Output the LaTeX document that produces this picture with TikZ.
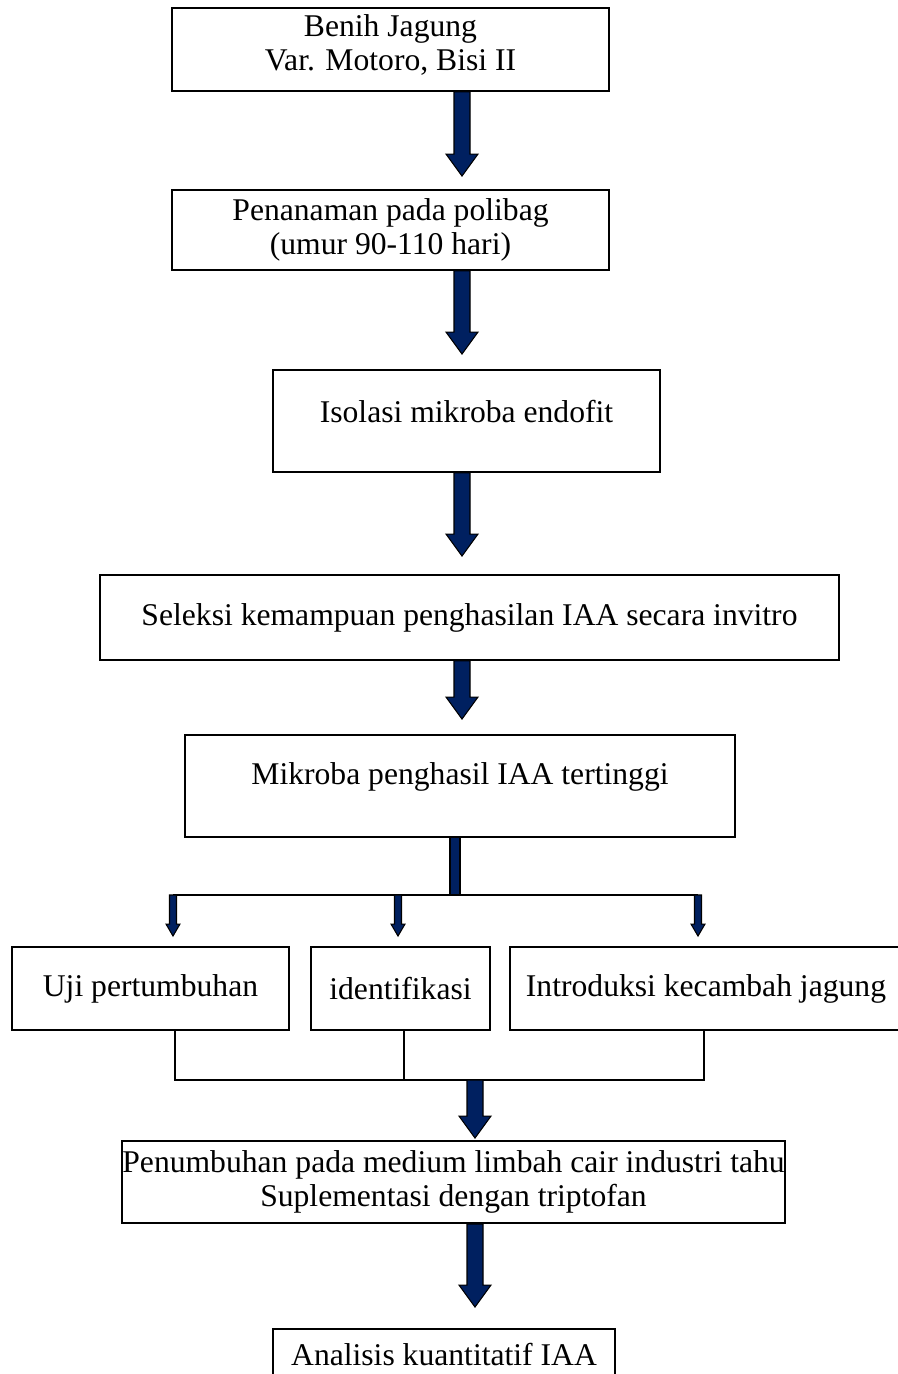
\documentclass[tikz,border=0pt]{standalone}
\usepackage{fontspec}
\setmainfont{Liberation Serif}
\usetikzlibrary{calc}
\definecolor{arrownavy}{RGB}{0,32,96}
\tikzset{
	box/.style={draw=black,line width=1.1pt,inner sep=0pt,align=center,font=\fontsize{18}{19.5}\selectfont},
	bigarrow/.style={fill=arrownavy,draw=black,line width=0.6pt},
	joinline/.style={line width=0.9pt}
}
% block arrow: #1 from, #2 tip, #3 half shaft, #4 half head, #5 head length
\newcommand\blockarrow[5]{%
	\filldraw[bigarrow] let \p1=(#1), \p2=(#2) in
		(\x1-#3,\y1) to (\x1-#3,\y2+#5) to (\x1-#4,\y2+#5) to (\x1,\y2) to (\x1+#4,\y2+#5) to (\x1+#3,\y2+#5) to (\x1+#3,\y1) to cycle;}
\begin{document}
\begin{tikzpicture}[x=0.02cm,y=-0.02cm]
	\useasboundingbox (0,0) rectangle (898,1374);
	\node[box,minimum width=8.74cm,minimum height=1.66cm,text depth=0.28cm] (benih) at (390.5,49.5) {Benih Jagung\\Var. Motoro, Bisi II};
	\node[box,minimum width=8.74cm,minimum height=1.60cm] (tanam) at (390.5,230) {Penanaman pada polibag\\(umur 90-110 hari)};
	\node[box,minimum width=7.74cm,minimum height=2.04cm,text depth=0.4cm] (isolasi) at (466.5,421) {Isolasi mikroba endofit};
	\node[box,minimum width=14.78cm,minimum height=1.70cm] (seleksi) at (469.5,617.5) {Seleksi kemampuan penghasilan IAA secara invitro};
	\node[box,minimum width=11cm,minimum height=2.04cm,text depth=0.5cm] (mikroba) at (460,786) {Mikroba penghasil IAA tertinggi};
	\node[box,minimum width=5.54cm,minimum height=1.66cm] (uji) at (150.5,988.5) {Uji pertumbuhan};
	\node[box,minimum width=3.58cm,minimum height=1.66cm] (ident) at (400.5,988.5) {identifikasi};
	\node[box,minimum width=7.84cm,minimum height=1.66cm] (intro) at (706,988.5) {Introduksi kecambah jagung};
	\node[box,minimum width=13.2cm,minimum height=1.64cm] (tumbuh) at (453.5,1182) {Penumbuhan pada medium limbah cair industri tahu\\Suplementasi dengan triptofan};
	\node[box,minimum width=6.84cm,minimum height=1.04cm] (analisis) at (444,1355) {Analisis kuantitatif IAA};
	\coordinate (axis) at (462,0);
	\coordinate (axisb) at (475,0);
	\coordinate (split) at (455,895);
	\coordinate (jl) at (175,1080);
	\coordinate (jm) at (404,1080);
	\coordinate (jr) at (704,1080);
	\coordinate (merge) at (475,1080);
	\blockarrow{benih.south -| axis}{$(tanam.north -| axis)+(0,-13)$}{0.16cm}{0.32cm}{0.44cm}
	\blockarrow{tanam.south -| axis}{$(isolasi.north -| axis)+(0,-15)$}{0.16cm}{0.32cm}{0.44cm}
	\blockarrow{isolasi.south -| axis}{$(seleksi.north -| axis)+(0,-18)$}{0.16cm}{0.32cm}{0.44cm}
	\blockarrow{seleksi.south -| axis}{$(mikroba.north -| axis)+(0,-15)$}{0.16cm}{0.32cm}{0.44cm}
	\draw[joinline] (173,895) to (698,895);
	\filldraw[bigarrow] ($(mikroba.south)+(-10,0)$) rectangle ($(split)+(5,0)$);
	\foreach \xpos/\target in {173/uji,398/ident,698/intro}
		\blockarrow{\xpos,895}{$(\target.north -| \xpos,0)+(0,-10)$}{0.07cm}{0.14cm}{0.24cm}
	\draw[joinline] (uji.south -| jl) to (jl) to (jr) to (intro.south -| jr);
	\draw[joinline] (ident.south -| jm) to (jm);
	\blockarrow{merge}{$(tumbuh.north -| axisb)+(0,-2)$}{0.16cm}{0.32cm}{0.44cm}
	\blockarrow{tumbuh.south -| axisb}{$(analisis.north -| axisb)+(0,-21)$}{0.16cm}{0.32cm}{0.44cm}
\end{tikzpicture}
\end{document}
